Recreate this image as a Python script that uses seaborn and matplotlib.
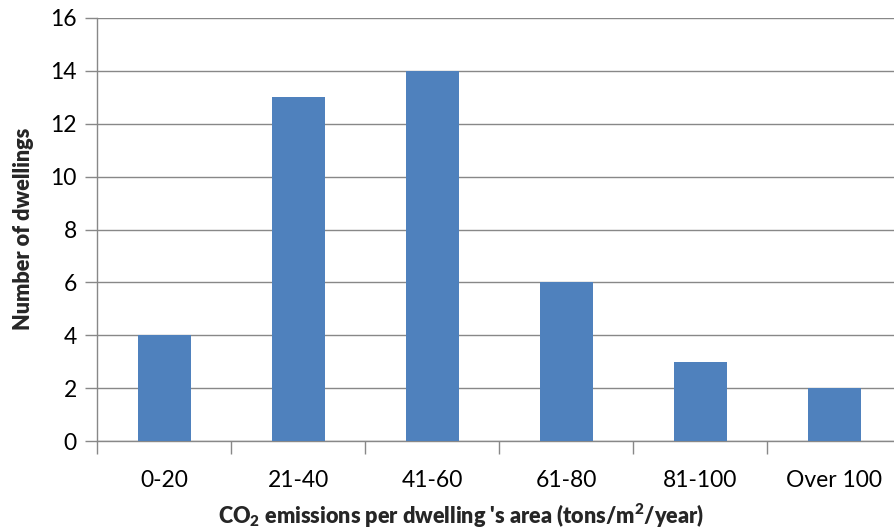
import matplotlib
matplotlib.use("Agg")
import matplotlib.pyplot as plt
import seaborn as sns
import pandas as pd

categories = ["0-20", "21-40", "41-60", "61-80", "81-100", "Over 100"]
dwellings = [4, 13, 14, 6, 3, 2]
y_ticks = [0, 2, 4, 6, 8, 10, 12, 14, 16]

sns.set_theme(style="white")
plt.rcParams["font.family"] = ["Lato", "DejaVu Sans"]
plt.rcParams["mathtext.fontset"] = "custom"
plt.rcParams["mathtext.bf"] = "Lato:weight=heavy"
plt.rcParams["mathtext.rm"] = "Lato:weight=heavy"
plt.rcParams["mathtext.default"] = "bf"

df = pd.DataFrame({"range": categories, "count": dwellings})

fig = plt.figure(figsize=(8.95, 5.31), dpi=100)
W, H = 895, 531
ax_left, ax_bottom, ax_w, ax_h = 97.5, 441, 804, 423
ax = fig.add_axes([ax_left / W, (H - ax_bottom) / H, ax_w / W, ax_h / H])

sns.barplot(data=df, x="range", y="count", color="#4F81BD", saturation=1,
            width=0.4, linewidth=0, ax=ax, zorder=3)

grid_col = "#888888"
ax.set_ylim(0, 16)
ax.set_xlim(-0.5, len(categories) - 0.5)
ax.set_yticks(y_ticks)
ax.yaxis.grid(True, color=grid_col, linewidth=1)
ax.set_axisbelow(True)

for side in ["top", "right"]:
    ax.spines[side].set_visible(False)
for side in ["left", "bottom"]:
    ax.spines[side].set_color(grid_col)
    ax.spines[side].set_linewidth(1)

# category boundary ticks on the x axis
ax.set_xticks([i - 0.5 for i in range(len(categories) + 1)], minor=True)
ax.set_xticks(range(len(categories)))
ax.set_xticklabels(categories)
ax.tick_params(axis="x", which="major", length=0, pad=21, labelsize=16.5,
               colors="black")
ax.tick_params(axis="x", which="minor", length=9, width=1, color=grid_col, bottom=True)
ax.tick_params(axis="y", length=9, width=1, color=grid_col, left=True, labelsize=16.5,
               labelcolor="black", pad=6)
ax.set_xlabel("")
ax.set_ylabel("")

# axis titles placed in figure pixels
fig.text(461 / W, 1 - 516 / H,
         r"CO$_2$ emissions per dwelling 's area (tons/m$^2$/year)",
         fontsize=15.6, fontweight="heavy", ha="center", va="center")
fig.text(24 / W, 1 - 229 / H, "Number of dwellings", rotation=90,
         fontsize=15.6, fontweight="heavy", ha="center", va="center")

fig.savefig("out.png", dpi=100)
